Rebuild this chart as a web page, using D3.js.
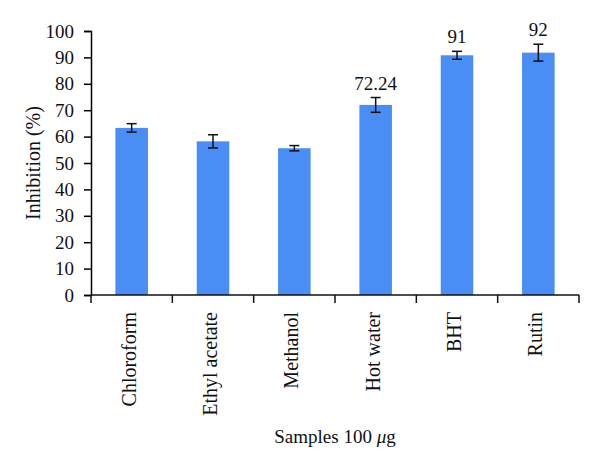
<!DOCTYPE html>
<html>
<head>
<meta charset="utf-8">
<script src="https://cdn.jsdelivr.net/npm/d3@7"></script>
<style>
  body { margin: 0; background: #fff; }
  svg text { font-family: "Liberation Serif", "DejaVu Serif", serif; fill: #111; }
</style>
</head>
<body>
<div id="chart"></div>
<script>
// samples and inhibition values
var samples = ['Chloroform', 'Ethyl acetate', 'Methanol', 'Hot water', 'BHT', 'Rutin'];
var inhibition = [63.3, 58.2, 55.6, 72.0, 90.8, 91.8];
var errors = [1.6, 2.5, 1.0, 2.8, 1.5, 3.2];
// labels printed above some bars
var valueLabels = ['', '', '', '72.24', '91', '92'];
var yTicks = [0, 10, 20, 30, 40, 50, 60, 70, 80, 90, 100];

var width = 600, height = 470;
var margin = {top: 31, right: 21, bottom: 175, left: 91};
var plotW = width - margin.left - margin.right,
    plotH = height - margin.top - margin.bottom;

var svg = d3.select('#chart').append('svg')
    .attr('width', width)
    .attr('height', height);

var g = svg.append('g')
    .attr('transform', 'translate(' + margin.left + ',' + margin.top + ')');

var x = d3.scaleBand()
    .domain(samples)
    .range([0, plotW])
    .padding(0);

var y = d3.scaleLinear()
    .domain([0, 100])
    .range([plotH, 0]);

var barW = x.bandwidth() * 0.4;

// bars
g.selectAll('rect.bar')
    .data(samples)
    .enter().append('rect')
        .attr('class', 'bar')
        .attr('x', function(d){ return x(d) + (x.bandwidth() - barW) / 2; })
        .attr('y', function(d, i){ return y(inhibition[i]); })
        .attr('width', barW)
        .attr('height', function(d, i){ return plotH - y(inhibition[i]); })
        .attr('fill', '#4a8df5');

// error bars
var err = g.append('g').attr('stroke', '#111').attr('stroke-width', 1.5);
samples.forEach(function(d, i){
    var cx = x(d) + x.bandwidth() / 2;
    var top = y(inhibition[i] + errors[i]), bot = y(inhibition[i] - errors[i]);
    err.append('line').attr('x1', cx).attr('x2', cx).attr('y1', top).attr('y2', bot);
    err.append('line').attr('x1', cx - 5).attr('x2', cx + 5).attr('y1', top).attr('y2', top);
    err.append('line').attr('x1', cx - 5).attr('x2', cx + 5).attr('y1', bot).attr('y2', bot);
});

// value labels above bars
g.selectAll('text.val')
    .data(samples)
    .enter().append('text')
        .attr('class', 'val')
        .attr('x', function(d){ return x(d) + x.bandwidth() / 2; })
        .attr('y', function(d, i){ return y(inhibition[i] + errors[i]) - 8; })
        .attr('text-anchor', 'middle')
        .style('font-size', '19px')
        .text(function(d, i){ return valueLabels[i]; });

// y axis
var yAxis = g.append('g')
    .call(d3.axisLeft(y).tickValues(yTicks).tickSize(7).tickPadding(10));
yAxis.selectAll('text').style('font-size', '19px');
yAxis.select('.domain').attr('stroke-width', 1.5);
yAxis.selectAll('.tick line').attr('stroke-width', 1.5);

// x axis: ticks on band edges, labels rotated
var xAxis = g.append('g').attr('transform', 'translate(0,' + plotH + ')');
xAxis.append('line')
    .attr('x1', 0).attr('x2', plotW)
    .attr('stroke', '#111').attr('stroke-width', 1.5);
var edges = samples.map(function(d){ return x(d); }).concat([plotW]);
xAxis.selectAll('line.tick')
    .data(edges)
    .enter().append('line')
        .attr('class', 'tick')
        .attr('x1', function(d){ return d; }).attr('x2', function(d){ return d; })
        .attr('y1', 0).attr('y2', 8)
        .attr('stroke', '#111').attr('stroke-width', 1.5);
xAxis.selectAll('text')
    .data(samples)
    .enter().append('text')
        .attr('transform', function(d){
            return 'translate(' + (x(d) + x.bandwidth() / 2 + 4) + ',17) rotate(-90)';
        })
        .attr('text-anchor', 'end')
        .style('font-size', '20px')
        .text(function(d){ return d; });

// axis titles
svg.append('text')
    .attr('transform', 'translate(40,' + (margin.top + plotH / 2) + ') rotate(-90)')
    .attr('text-anchor', 'middle')
    .style('font-size', '20px')
    .text('Inhibition (%)');

var xt = svg.append('text')
    .attr('x', margin.left + plotW / 2)
    .attr('y', 443)
    .attr('text-anchor', 'middle')
    .style('font-size', '19px');
xt.append('tspan').text('Samples 100 ');
xt.append('tspan').style('font-style', 'italic').text('μ');
xt.append('tspan').text('g');
</script>
</body>
</html>
